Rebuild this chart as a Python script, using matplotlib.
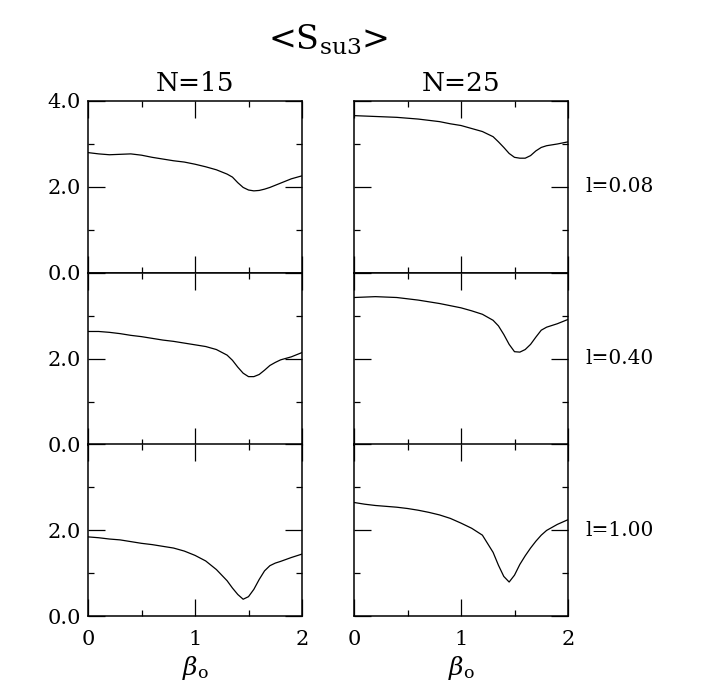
"""<S_su3> versus beta_o for two lattice sizes and three l values."""

import matplotlib

matplotlib.use("Agg")
import matplotlib.pyplot as plt
from matplotlib.ticker import MultipleLocator

plt.rcParams["font.family"] = ["DejaVu Serif"]
plt.rcParams["mathtext.fontset"] = "dejavuserif"

beta = [0.0, 0.1, 0.2, 0.3, 0.4, 0.5, 0.6, 0.7, 0.8, 0.9, 1.0, 1.1, 1.2, 1.3,
        1.35, 1.4, 1.45, 1.5, 1.55, 1.6, 1.65, 1.7, 1.75, 1.8, 1.9, 2.0]

# N=15 column
s_n15_l008 = [2.80, 2.77, 2.75, 2.76, 2.77, 2.74, 2.69, 2.65, 2.61, 2.58, 2.53, 2.47, 2.40, 2.30,
              2.23, 2.10, 1.99, 1.93, 1.91, 1.92, 1.95, 1.99, 2.04, 2.09, 2.19, 2.26]
s_n15_l040 = [2.64, 2.64, 2.62, 2.59, 2.55, 2.52, 2.48, 2.44, 2.41, 2.37, 2.33, 2.29, 2.22, 2.09,
              1.97, 1.81, 1.67, 1.59, 1.59, 1.64, 1.74, 1.85, 1.92, 1.98, 2.05, 2.15]
s_n15_l100 = [1.84, 1.82, 1.79, 1.77, 1.73, 1.69, 1.66, 1.62, 1.58, 1.51, 1.41, 1.28, 1.08, 0.82,
              0.65, 0.50, 0.39, 0.45, 0.62, 0.85, 1.05, 1.17, 1.23, 1.27, 1.36, 1.44]

# N=25 column
s_n25_l008 = [3.66, 3.65, 3.64, 3.63, 3.62, 3.60, 3.58, 3.55, 3.52, 3.47, 3.43, 3.36, 3.29, 3.17,
              3.05, 2.92, 2.78, 2.69, 2.67, 2.67, 2.73, 2.84, 2.92, 2.96, 3.00, 3.05]
s_n25_l040 = [3.43, 3.44, 3.45, 3.44, 3.43, 3.40, 3.37, 3.33, 3.29, 3.24, 3.19, 3.12, 3.04, 2.90,
              2.77, 2.57, 2.34, 2.17, 2.16, 2.22, 2.34, 2.51, 2.67, 2.74, 2.82, 2.92]
s_n25_l100 = [2.64, 2.60, 2.57, 2.55, 2.53, 2.50, 2.46, 2.41, 2.35, 2.27, 2.16, 2.04, 1.88, 1.48,
              1.18, 0.92, 0.79, 0.95, 1.20, 1.40, 1.58, 1.74, 1.88, 1.99, 2.13, 2.24]

column_titles = ["N=15", "N=25"]
row_labels = ["l=0.08", "l=0.40", "l=1.00"]
series = [
    [s_n15_l008, s_n25_l008],
    [s_n15_l040, s_n25_l040],
    [s_n15_l100, s_n25_l100],
]

fig = plt.figure(figsize=(7.02, 6.92), dpi=100)

W, H = 702.0, 692.0
col_left = [88, 354]
col_width = 214
row_top = [101, 273, 444]
row_height = 172

for r in range(3):
    for c in range(2):
        ax = fig.add_axes([
            col_left[c] / W,
            (H - row_top[r] - row_height) / H,
            col_width / W,
            row_height / H,
        ])
        ax.plot(beta, series[r][c], color="black", lw=0.9)
        ax.set_xlim(0, 2)
        ax.set_ylim(0, 4)
        ax.xaxis.set_major_locator(MultipleLocator(1))
        ax.xaxis.set_minor_locator(MultipleLocator(0.5))
        ax.yaxis.set_major_locator(MultipleLocator(2))
        ax.yaxis.set_minor_locator(MultipleLocator(1))
        ax.tick_params(which="both", direction="in", top=True, right=True,
                       width=0.9, labelsize=15)
        ax.tick_params(axis="y", pad=5)
        ax.tick_params(axis="x", pad=10)
        ax.tick_params(which="major", length=12)
        ax.tick_params(which="minor", length=4.5)
        for spine in ax.spines.values():
            spine.set_linewidth(1.1)

        if c == 0:
            if r == 0:
                ax.set_yticks([0, 2, 4], ["0.0", "2.0", "4.0"])
            else:
                ax.set_yticks([0, 2, 4], ["0.0", "2.0", ""])
        else:
            ax.set_yticklabels([])

        if r == 2:
            ax.set_xticks([0, 1, 2], ["0", "1", "2"])
            ax.set_xlabel(r"$\beta_{\rm o}$", fontsize=18, labelpad=4)
        else:
            ax.set_xticklabels([])

        if r == 0:
            ax.set_title(column_titles[c], fontsize=19, pad=7)
        if c == 1:
            ax.text(1.08, 0.5, row_labels[r], transform=ax.transAxes,
                    fontsize=14.5, va="center", ha="left")

fig.text(328 / W, 1 - 40 / H, r"<S$_{\rm su3}$>", fontsize=24,
         ha="center", va="center")

fig.savefig("out.png", dpi=100)
